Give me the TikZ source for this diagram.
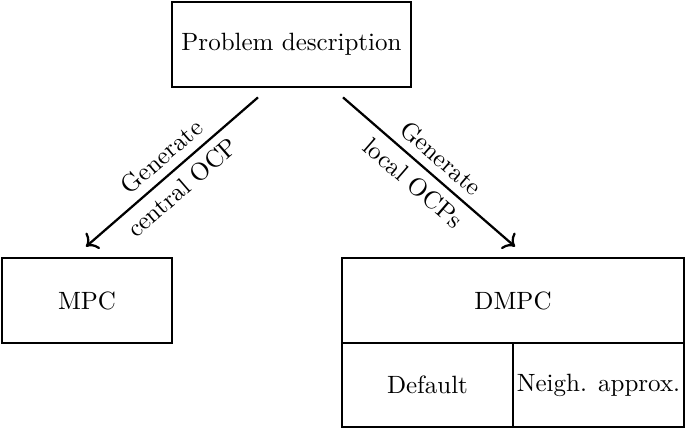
\documentclass[tikz,border=0pt]{standalone}
\usetikzlibrary{arrows.meta}
\begin{document}
\begin{tikzpicture}[x=0.4pt,y=-0.4pt,
  box/.style={draw, line width=1.1pt, rectangle, inner sep=1pt, minimum height=34pt},
  conn/.style={draw, line width=0.9pt, -{To[length=4pt,width=8.5pt]}},
  lbl/.style={sloped, font=\normalsize}]
\useasboundingbox (0,0) rectangle (685,429);
\node[box, minimum width=95.6pt] (prob) at (291.5,44.5) {Problem description};
\node[box, minimum width=68pt] (mpc) at (87,300.5) {MPC};
\node[box, minimum width=136.8pt] (dmpc) at (513,300.5) {DMPC};
\node[box, minimum width=68.4pt, minimum height=33.6pt] (def) at (427.5,385) {Default};
\node[box, minimum width=68.4pt, minimum height=33.6pt] (nei) at (598.5,385) {Neigh. approx.};
\draw[conn] ([xshift=-13.4pt,yshift=-3.6pt]prob.south) -- ([xshift=-0.4pt,yshift=4pt]mpc.north)
  node[lbl, above, pos=0.49] {Generate}
  node[lbl, below, pos=0.51] {central OCP};
\draw[conn] ([xshift=20.6pt,yshift=-3.6pt]prob.south) -- ([xshift=0.8pt,yshift=4pt]dmpc.north)
  node[lbl, above, pos=0.5] {Generate}
  node[lbl, below, pos=0.48] {local OCPs};
\end{tikzpicture}
\end{document}
